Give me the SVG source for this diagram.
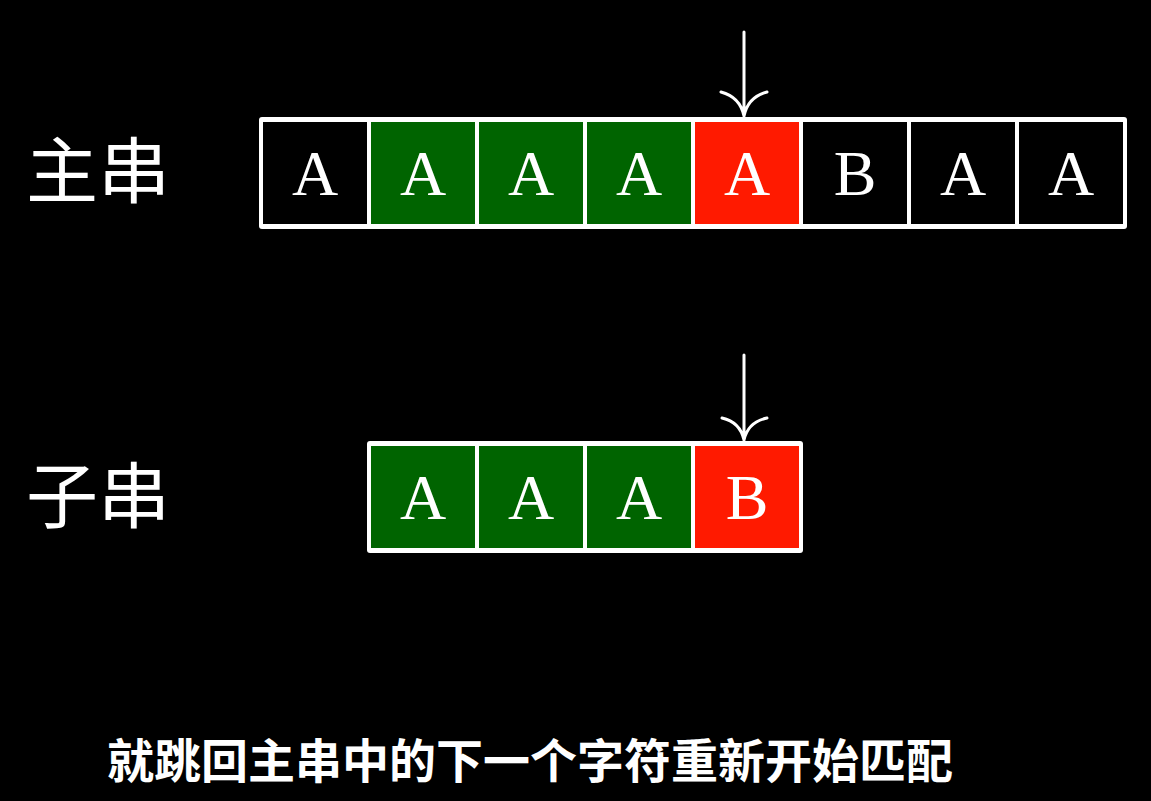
<svg xmlns="http://www.w3.org/2000/svg" width="1151" height="801" viewBox="0 0 1151 801">
<style>
.frame{fill:#ffffff}
.blk{fill:#000000}
.grn{fill:#006400}
.red{fill:#ff1a00}
.ch{font-family:"Liberation Serif","Times New Roman",serif;font-size:64px;fill:#ffffff;text-anchor:middle}
.lbl{font-family:"Noto Sans CJK SC","Noto Sans",sans-serif;font-size:72px;fill:#ffffff}
.cap{font-family:"Noto Sans CJK SC","Noto Sans",sans-serif;font-size:47px;font-weight:bold;fill:#ffffff;text-anchor:middle}
.arr{fill:none;stroke:#ffffff;stroke-width:3;stroke-linecap:round}
</style>
<rect x="0" y="0" width="1151" height="801" fill="#000"/>
<g id="label-main"><text class="lbl" x="26" y="197">主串</text></g>
<g id="label-sub"><text class="lbl" x="26" y="522">子串</text></g>
<g id="main-string">
<rect class="frame" x="259" y="117" width="868" height="112" rx="3"/>
<rect class="blk" x="263" y="122" width="104" height="102"/>
<rect class="grn" x="371" y="122" width="104" height="102"/>
<rect class="grn" x="479" y="122" width="104" height="102"/>
<rect class="grn" x="587" y="122" width="104" height="102"/>
<rect class="red" x="695" y="122" width="104" height="102"/>
<rect class="blk" x="803" y="122" width="104" height="102"/>
<rect class="blk" x="911" y="122" width="104" height="102"/>
<rect class="blk" x="1019" y="122" width="104" height="102"/>
<text class="ch" x="315" y="195">A</text>
<text class="ch" x="423" y="195">A</text>
<text class="ch" x="531" y="195">A</text>
<text class="ch" x="639" y="195">A</text>
<text class="ch" x="747" y="195">A</text>
<text class="ch" x="855" y="195">B</text>
<text class="ch" x="963" y="195">A</text>
<text class="ch" x="1071" y="195">A</text>
</g>
<g id="sub-string">
<rect class="frame" x="367" y="441" width="436" height="112" rx="3"/>
<rect class="grn" x="371" y="446" width="104" height="102"/>
<rect class="grn" x="479" y="446" width="104" height="102"/>
<rect class="grn" x="587" y="446" width="104" height="102"/>
<rect class="red" x="695" y="446" width="104" height="102"/>
<text class="ch" x="423" y="519">A</text>
<text class="ch" x="531" y="519">A</text>
<text class="ch" x="639" y="519">A</text>
<text class="ch" x="747" y="519">B</text>
</g>
<g id="connectors">
<path class="arr" d="M744,32 V116 M721,92 Q740,97 744,116 M767,92 Q748,97 744,116"/>
<path class="arr" d="M744,355 V440 M722,418 Q740,422 744,440 M767,418 Q748,422 744,440"/>
</g>
<g id="caption"><text class="cap" x="530" y="778">就跳回主串中的下一个字符重新开始匹配</text></g>
</svg>
